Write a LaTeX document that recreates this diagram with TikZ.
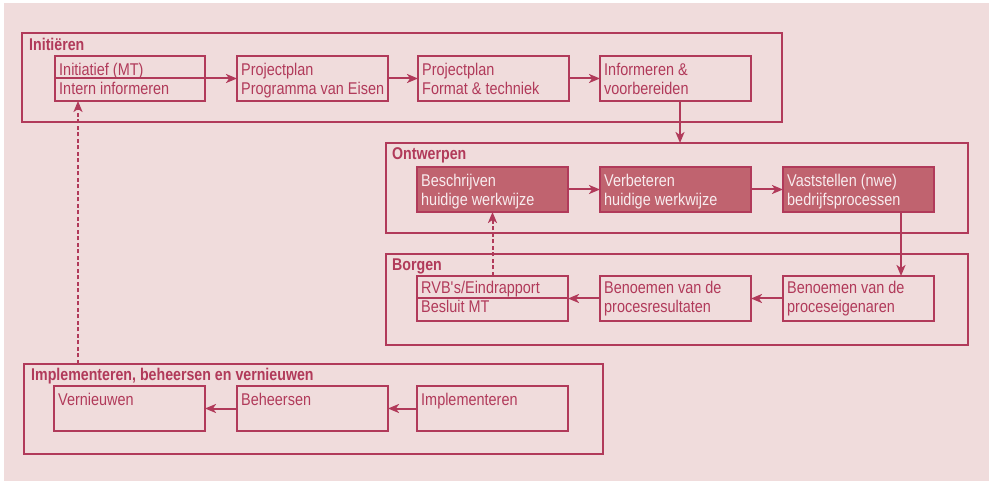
\documentclass[tikz,border=0pt]{standalone}
\usepackage{fontspec}
\setmainfont{Liberation Sans}[FakeStretch=0.85, BoldFeatures={FakeStretch=0.835}]
\usetikzlibrary{arrows.meta,calc}
\definecolor{lc}{HTML}{B13A5A}
\definecolor{bg}{HTML}{F0DCDC}
\definecolor{fc}{HTML}{C0636F}
\definecolor{ft}{HTML}{F8ECEE}

\begin{document}
\begin{tikzpicture}[x=1pt,y=-1pt,
  phase/.style={draw=lc, line width=2pt, inner sep=0pt, outer sep=0pt, anchor=north west},
  stepbox/.style={draw=lc, line width=2pt, inner sep=0pt, outer sep=0pt, anchor=north west,
                  minimum width=151pt, minimum height=45pt},
  filledbox/.style={stepbox, fill=fc},
  phasetitle/.style={anchor=base west, inner sep=0pt, text=lc,
                     font=\fontsize{17}{19}\selectfont\bfseries},
  txt/.style={anchor=north west, inner sep=0pt, align=left, text=lc,
              font=\fontsize{17}{19}\selectfont},
  lighttxt/.style={txt, text=ft},
  arr/.style={draw=lc, line width=2pt, -{Stealth[length=11pt,width=9pt,inset=3pt]}},
  dasharr/.style={arr, dash pattern=on 4pt off 2.5pt},
  divider/.style={draw=lc, line width=2pt}
]
\useasboundingbox (0,0) rectangle (989,481);
\fill[white] (0,0) rectangle (989,481);
\fill[bg] (4,3) rectangle (989,481);

% --- phase frames
\node[phase, minimum width=760pt, minimum height=89pt] (ini) at (22,33) {};
\node[phase, minimum width=582pt, minimum height=90pt] (ont) at (386,143) {};
\node[phase, minimum width=582pt, minimum height=91pt] (bor) at (386,254) {};
\node[phase, minimum width=579pt, minimum height=90pt] (imp) at (24,364) {};

\node[phasetitle] (iniT) at (29,51) {Initiëren};
\node[phasetitle] (ontT) at (392,159.5) {Ontwerpen};
\node[phasetitle] (borT) at (392,270.5) {Borgen};
\node[phasetitle] (impT) at (31,381) {Implementeren, beheersen en vernieuwen};

% --- Initiëren
\node[stepbox, minimum width=150pt] (a) at (55,56) {};
\node[stepbox] (b) at (237,56) {};
\node[stepbox] (c) at (418,56) {};
\node[stepbox] (d) at (600,56) {};
\draw[divider] (a.west) -- (a.east);
\node[txt] (aT) at ($(a.north west)+(4,6.2)$) {\strut Initiatief (MT)\\Intern informeren};
\node[txt] (bT) at ($(b.north west)+(4,6.2)$) {\strut Projectplan\\Programma van Eisen};
\node[txt] (cT) at ($(c.north west)+(4,6.2)$) {\strut Projectplan\\Format \& techniek};
\node[txt] (dT) at ($(d.north west)+(4,6.2)$) {\strut Informeren \&\\voorbereiden};

% --- Ontwerpen
\node[filledbox] (e) at (417,167) {};
\node[filledbox] (f) at (600,167) {};
\node[filledbox] (g) at (783,167) {};
\node[lighttxt] (eT) at ($(e.north west)+(4,6.2)$) {\strut Beschrijven\\huidige werkwijze};
\node[lighttxt] (fT) at ($(f.north west)+(4,6.2)$) {\strut Verbeteren\\huidige werkwijze};
\node[lighttxt] (gT) at ($(g.north west)+(4,6.2)$) {\strut Vaststellen (nwe)\\bedrijfsprocessen};

% --- Borgen
\node[stepbox] (i) at (417,276) {};
\node[stepbox] (j) at (600,276) {};
\node[stepbox] (h) at (783,276) {};
\draw[divider] (i.west) -- (i.east);
\node[txt] (iT) at ($(i.north west)+(4,4.5)$) {\strut RVB\textquotesingle s/Eindrapport\\Besluit MT};
\node[txt] (jT) at ($(j.north west)+(4,4.5)$) {\strut Benoemen van de\\procesresultaten};
\node[txt] (hT) at ($(h.north west)+(4,4.5)$) {\strut Benoemen van de\\proceseigenaren};

% --- Implementeren, beheersen en vernieuwen
\node[stepbox] (k) at (54,386) {};
\node[stepbox] (l) at (237,386) {};
\node[stepbox] (m) at (417,386) {};
\node[txt] (kT) at ($(k.north west)+(4,6.2)$) {\strut Vernieuwen};
\node[txt] (lT) at ($(l.north west)+(4,6.2)$) {\strut Beheersen};
\node[txt] (mT) at ($(m.north west)+(4,6.2)$) {\strut Implementeren};

% --- connectors
\coordinate (dx) at (680,0);
\coordinate (gx) at (901,0);
\coordinate (ix) at (78,0);

\draw[arr] (a.east) -- (b.west);
\draw[arr] (b.east) -- (c.west);
\draw[arr] (c.east) -- (d.west);
\draw[arr] (d.south -| dx) -- (ont.north -| dx);

\draw[arr] (e.east) -- (f.west);
\draw[arr] (f.east) -- (g.west);
\draw[arr] (g.south -| gx) -- (h.north -| gx);

\draw[arr] (h.west) -- (j.east);
\draw[arr] (j.west) -- (i.east);
\draw[dasharr] (i.north) -- (e.south);

\draw[arr] (m.west) -- (l.east);
\draw[arr] (l.west) -- (k.east);
\draw[dasharr] (imp.north -| ix) -- (a.south -| ix);
\end{tikzpicture}
\end{document}
